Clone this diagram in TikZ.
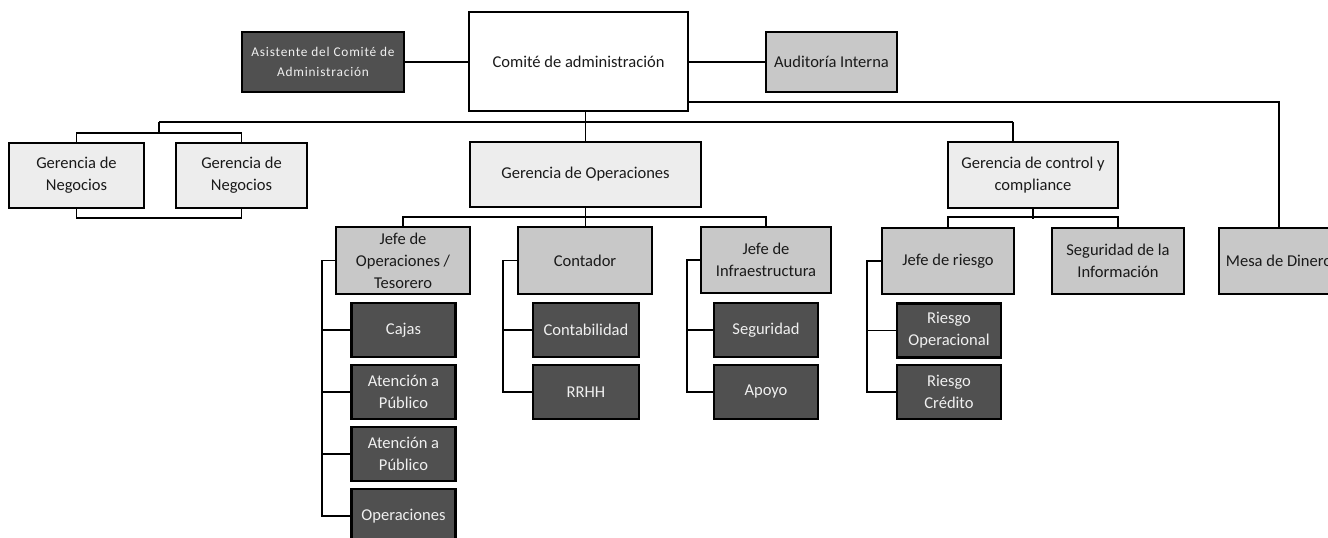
\documentclass[tikz,border=0pt]{standalone}
\usepackage{fontspec}
\setmainfont{Carlito}
\newfontfamily\asisfont[LetterSpace=6]{Carlito}
\definecolor{darkbox}{HTML}{505050}
\definecolor{graybox}{HTML}{C8C8C8}
\definecolor{lightbox}{HTML}{EDEDED}
\definecolor{inktext}{HTML}{1A1A1A}
\begin{document}
\begin{tikzpicture}[x=0.75pt,y=-0.75pt,
  base/.style={draw=black, line width=1.6pt, inner sep=0pt, align=center,
    font=\fontsize{12.4}{16.5}\selectfont, text=inktext},
  whitebox/.style={base, fill=white},
  lightgm/.style={base, fill=lightbox},
  graygm/.style={base, fill=graybox},
  darkgm/.style={base, fill=darkbox, text=white!94!black},
  sub/.style={darkgm, minimum width=78pt, minimum height=40.5pt},
  link/.style={draw=black, line width=1.4pt}]
\useasboundingbox (0,0) rectangle (1328,538);
\clip (0,0) rectangle (1328,538);

% top row
\node[darkgm, minimum width=121.5pt, minimum height=45pt,
  font=\asisfont\fontsize{10}{14.5}\selectfont] (asis) at (323,62)
  {Asistente del Comité de\\Administración};
\node[whitebox, minimum width=164.25pt, minimum height=74.25pt] (comite) at (578.5,61.5)
  {Comité de administración};
\node[graygm, minimum width=98.25pt, minimum height=45pt] (audit) at (831.5,62)
  {Auditoría Interna};

% second row
\node[lightgm, minimum width=101.25pt, minimum height=48.75pt] (gn1) at (76.5,175.5)
  {Gerencia de\\Negocios};
\node[lightgm, minimum width=98.25pt, minimum height=48.75pt] (gn2) at (241.5,175.5)
  {Gerencia de\\Negocios};
\node[lightgm, minimum width=173.25pt, minimum height=48.75pt] (gop) at (585.5,174.5)
  {Gerencia de Operaciones};
\node[lightgm, minimum width=127.5pt, minimum height=49.5pt] (gcc) at (1033,175)
  {Gerencia de control y\\compliance};

% third row
\node[graygm, minimum width=100.5pt, minimum height=50.25pt] (jop) at (403,260.5)
  {Jefe de\\Operaciones /\\Tesorero};
\node[graygm, minimum width=100.5pt, minimum height=50.25pt] (cont) at (585,260.5)
  {Contador};
\node[graygm, minimum width=97.5pt, minimum height=49.5pt] (jinf) at (766,260)
  {Jefe de\\Infraestructura};
\node[graygm, minimum width=99pt, minimum height=49.5pt] (jr) at (948,261)
  {Jefe de riesgo};
\node[graygm, minimum width=99pt, minimum height=49.5pt] (seginf) at (1118,261)
  {Seguridad de la\\Información};
\node[graygm, minimum width=90pt, minimum height=49.5pt] (mesa) at (1279,261)
  {Mesa de Dinero};

% fourth level
\node[sub] (cajas) at (403.5,330) {Cajas};
\node[sub] (aten1) at (403.5,392) {Atención a\\Público};
\node[sub] (aten2) at (403.5,454) {Atención a\\Público};
\node[sub] (oper)  at (403.5,516) {Operaciones};
\node[sub, minimum width=79.5pt] (contab) at (586,330) {Contabilidad};
\node[sub, minimum width=79.5pt] (rrhh)   at (586,392) {RRHH};
\node[sub] (segur) at (766,330) {Seguridad};
\node[sub] (apoyo) at (766,392) {Apoyo};
\node[sub] (rop)   at (949,330.5) {Riesgo\\Operacional};
\node[sub] (rcred) at (949,392) {Riesgo\\Crédito};

% connectors, top
\draw[link] (asis.east) -- (asis.east -| comite.west);
\draw[link] (audit.west) -- (audit.west -| comite.east);
\coordinate (cr) at (688,102);
\draw[link] (cr) -| (mesa.north);
\coordinate (busL) at (159,122);
\coordinate (busR) at (1013,122);
\draw[link] (busL) -- (busR);
\draw[link] (gop.north) -- (gop.north |- comite.south);
\draw[link] (busR) -- (busR |- gcc.north);
\coordinate (gnj) at (159,133);
\draw[link] (busL) -- (gnj);
\draw[link] (gn1.north) |- (gnj) -| (gn2.north);
\draw[link] (gn1.south) -- ++(0,9) -| (gn2.south);

% connectors, second level
\draw[link] (gop.south) -- (gop.south |- cont.north);
\draw[link] (jop.north) -- ++(0,-9) -| (jinf.north);
\draw[link] (gcc.south) -- ++(0,10);
\draw[link] (jr.north) -- ++(0,-10) -| (seginf.north);

% spines
\draw[link] (jop.west) -- ++(-13,0) |- (oper.west);
\foreach \n in {cajas,aten1,aten2} \draw[link] (\n.west) -- ++(-29,0);
\draw[link] (cont.west) -- ++(-14,0) |- (rrhh.west);
\draw[link] (contab.west) -- ++(-29,0);
\draw[link] (jinf.west) -- ++(-13,0) |- (apoyo.west);
\draw[link] (segur.west) -- ++(-26,0);
\draw[link] (jr.west) -- ++(-14,0) |- (rcred.west);
\draw[link] (rop.west) -- ++(-29,0);
\end{tikzpicture}
\end{document}
